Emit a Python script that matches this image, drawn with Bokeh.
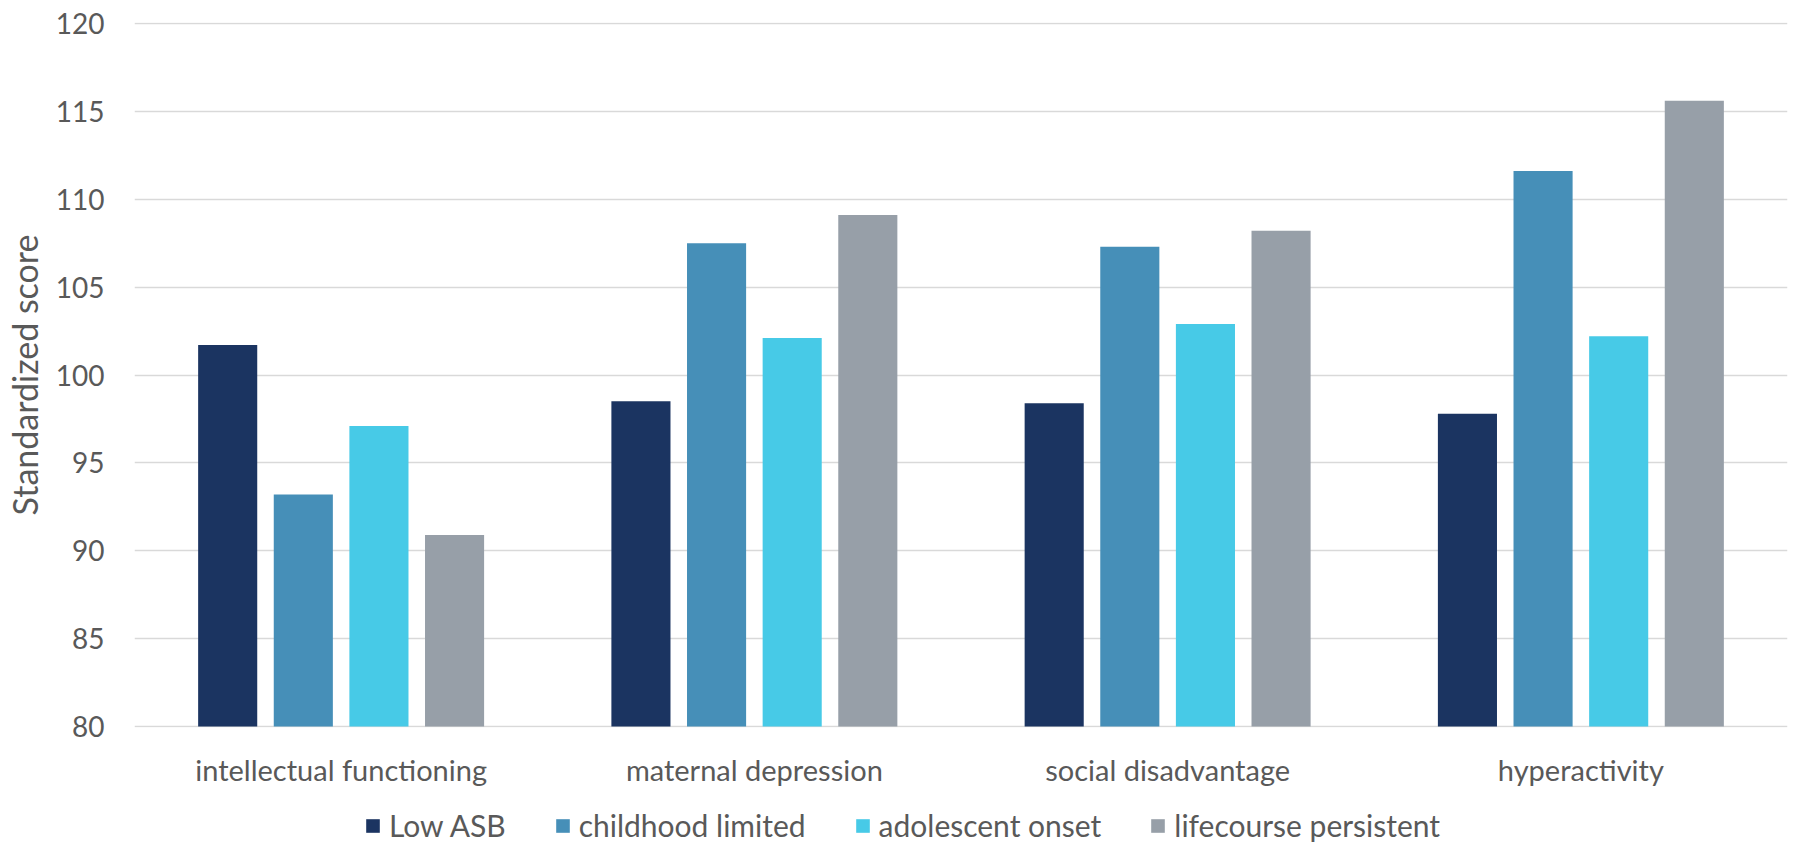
from bokeh.plotting import figure
from bokeh.layouts import column
from bokeh.models import ColumnDataSource, FactorRange, Range1d, Legend, LegendItem
from bokeh.transform import dodge
from bokeh.embed import file_html
from bokeh.resources import INLINE

categories = ["intellectual functioning", "maternal depression", "social disadvantage", "hyperactivity"]
series_names = ["Low ASB", "childhood limited", "adolescent onset", "lifecourse persistent"]
low_asb = [101.7, 98.5, 98.4, 97.8]
childhood_limited = [93.2, 107.5, 107.3, 111.6]
adolescent_onset = [97.1, 102.1, 102.9, 102.2]
lifecourse_persistent = [90.9, 109.1, 108.2, 115.6]
y_ticks = [80, 85, 90, 95, 100, 105, 110, 115, 120]

colors = ["#1B3461", "#468FB8", "#47CAE7", "#979FA8"]
FONT = "Lato"
TEXT = "#595959"

source = ColumnDataSource(dict(
    cat=categories,
    s0=low_asb, s1=childhood_limited, s2=adolescent_onset, s3=lifecourse_persistent,
))

p = figure(
    x_range=FactorRange(*categories, range_padding=0),
    y_range=Range1d(79.95, 120.05),
    width=1793, height=800,
    output_backend="svg", toolbar_location=None,
    min_border_left=127, min_border_right=6, min_border_top=22, min_border_bottom=73,
)
p.outline_line_color = None
p.background_fill_color = "white"
p.border_fill_color = "white"

offsets = [-0.2745, -0.0915, 0.0915, 0.2745]
for i, off in enumerate(offsets):
    p.vbar(x=dodge("cat", off, range=p.x_range), top="s%d" % i, bottom=80, width=0.143,
           source=source, fill_color=colors[i], line_color=None)

p.xgrid.grid_line_color = None
p.ygrid.grid_line_color = "#D9D9D9"
p.ygrid.grid_line_width = 1.5
p.yaxis.ticker = y_ticks

for ax in (p.xaxis[0], p.yaxis[0]):
    ax.axis_line_color = None
    ax.major_tick_line_color = None
    ax.minor_tick_line_color = None
    ax.major_tick_out = 0
    ax.major_tick_in = 0
    ax.minor_tick_out = 0
    ax.major_label_text_font = FONT
    ax.major_label_text_color = TEXT
    ax.major_label_text_font_size = "28px"
    ax.axis_label_text_font = FONT
    ax.axis_label_text_color = TEXT
    ax.axis_label_text_font_size = "34px"
    ax.axis_label_text_font_style = "normal"

p.xaxis.major_label_text_font_size = "29px"
p.yaxis.major_label_standoff = 30
p.yaxis.axis_label = "Standardized score"
p.yaxis.axis_label_standoff = 8
p.xaxis.major_label_standoff = 24

# legend strip below the chart (its frame is aligned with the chart frame)
lg = figure(width=1793, height=43, x_range=Range1d(0, 1), y_range=Range1d(0, 1),
            x_axis_type=None, y_axis_type=None, output_backend="svg", toolbar_location=None,
            min_border=0, outline_line_color=None)
lg.xgrid.visible = False
lg.ygrid.visible = False
items = []
for i in range(4):
    # key swatch renderers, placed far outside the visible range of this strip
    r = lg.vbar(x=[-50], top=[-50], bottom=[-51], width=0.1, fill_color=colors[i], line_color=None)
    items.append(LegendItem(label=series_names[i], renderers=[r]))

legend = Legend(
    items=items,
    orientation="horizontal",
    location=(230, 0),
    label_text_font=FONT, label_text_color=TEXT, label_text_font_size="30px",
    glyph_width=17, glyph_height=17, label_standoff=8, spacing=48,
    padding=0, margin=0, border_line_color=None, background_fill_alpha=0,
)
lg.add_layout(legend, "center")

layout = column(p, lg, spacing=0)
open("out.html", "w").write(file_html(layout, INLINE))
